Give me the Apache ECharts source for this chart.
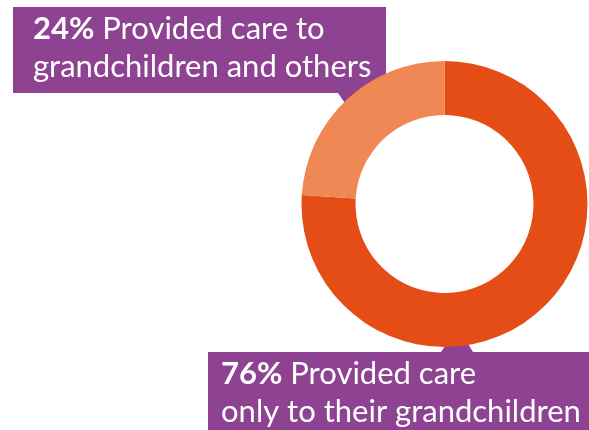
<!DOCTYPE html>
<html>
<head>
<meta charset="utf-8">
<script src="https://cdn.jsdelivr.net/npm/echarts@6/dist/echarts.min.js"></script>
<style>
  html, body { margin: 0; padding: 0; background: #fff; }
  #chart { width: 589px; height: 430px; }
</style>
</head>
<body>
<div id="chart"></div>
<script>
// Share of grandparents by who they provided care to
const categories = ['Provided care only to their grandchildren', 'Provided care to grandchildren and others'];
const shares = [76, 24];
const sliceColors = ['#E54D16', '#EF8854'];
const calloutLines = [
  ['Provided care', 'only to their grandchildren'],
  ['Provided care to', 'grandchildren and others']
];

const PURPLE = '#8E4392';
const FONT = 'Lato, "Open Sans", sans-serif';
const FS = 31;
const LH = 38;

function calloutText(i) {
  return '{b|' + shares[i] + '%} ' + calloutLines[i][0] + '\n' + calloutLines[i][1];
}

const textRich = {
  b: { fontFamily: FONT, fontWeight: 'bold', fontSize: FS, fill: '#fff', lineHeight: LH }
};

const chart = echarts.init(document.getElementById('chart'), null, { renderer: 'canvas' });
chart.setOption({
  animation: false,
  series: [{
    type: 'pie',
    center: [444.5, 204],
    radius: [89, 143],
    startAngle: 90,
    clockwise: true,
    silent: true,
    label: { show: false },
    labelLine: { show: false },
    data: categories.map((name, i) => ({
      name: name,
      value: shares[i],
      itemStyle: { color: sliceColors[i] }
    }))
  }],
  graphic: [
    // upper callout (24%)
    {
      type: 'polygon',
      shape: { points: [[13, 7], [386, 7], [386, 93], [371, 93], [355, 118], [338, 93], [13, 93]] },
      style: { fill: PURPLE }
    },
    {
      type: 'text',
      left: 33, top: 10,
      style: {
        text: calloutText(1),
        fontFamily: FONT, fontSize: FS, fill: '#fff', lineHeight: LH,
        rich: textRich
      }
    },
    // lower callout (76%)
    {
      type: 'polygon',
      shape: { points: [[208, 352], [441, 352], [458, 327], [473, 352], [589, 352], [589, 430], [208, 430]] },
      style: { fill: PURPLE }
    },
    {
      type: 'text',
      left: 221, top: 355,
      style: {
        text: calloutText(0),
        fontFamily: FONT, fontSize: FS, fill: '#fff', lineHeight: LH,
        rich: textRich
      }
    }
  ]
});
</script>
</body>
</html>
